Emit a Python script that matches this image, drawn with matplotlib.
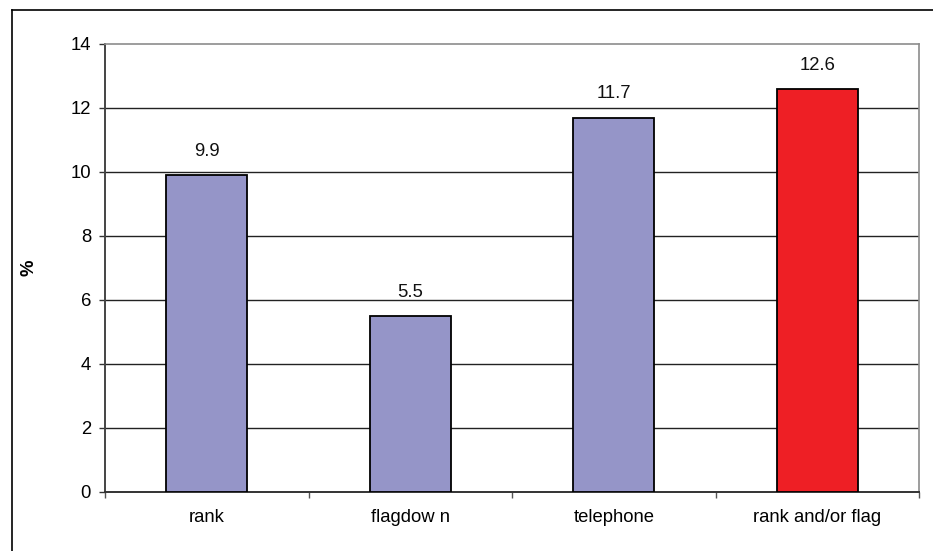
import matplotlib
matplotlib.use("Agg")
import matplotlib.pyplot as plt
from matplotlib.lines import Line2D

plt.rcParams['font.family'] = ['Liberation Sans', 'DejaVu Sans']

categories = ["rank", "flagdow n", "telephone", "rank and/or flag"]
values = [9.9, 5.5, 11.7, 12.6]
bar_colors = ["#9595C8", "#9595C8", "#9595C8", "#EE1F25"]
y_ticks = [0, 2, 4, 6, 8, 10, 12, 14]

FS = 13.3

fig = plt.figure(figsize=(9.33, 5.51), dpi=100)
ax = fig.add_axes([105 / 933, 1 - 492 / 551, (919 - 105) / 933, (492 - 44) / 551])

x = list(range(len(categories)))
bars = ax.bar(x, values, width=0.4, color=bar_colors, edgecolor="black",
              linewidth=1.3, zorder=3)

for xi, v in zip(x, values):
    ax.annotate(f"{v}", (xi, v), xytext=(0, 11), textcoords="offset points",
                ha="center", va="bottom", fontsize=FS, color="#111111")

ax.set_xlim(-0.5, len(categories) - 0.5)
ax.set_ylim(0, 14)
ax.set_yticks(y_ticks)
ax.set_yticklabels([str(t) for t in y_ticks], fontsize=FS)
ax.set_xticks(x)
ax.set_xticklabels(categories, fontsize=FS)
ax.tick_params(axis="x", length=0, pad=12)
ax.set_xticks([i + 0.5 for i in range(-1, len(categories))], minor=True)
ax.tick_params(axis="x", which="minor", length=4, width=1, color="#555555")
ax.tick_params(axis="y", length=4, width=1, color="#333333", pad=6)

for yv in y_ticks[1:-1]:
    ax.axhline(yv, color="#222222", linewidth=1.0, zorder=1)

ax.spines["left"].set_color("#444444")
ax.spines["left"].set_linewidth(1.4)
ax.spines["bottom"].set_color("#333333")
ax.spines["bottom"].set_linewidth(1.4)
ax.spines["top"].set_color("#8c8c8c")
ax.spines["top"].set_linewidth(1.2)
ax.spines["right"].set_color("#8c8c8c")
ax.spines["right"].set_linewidth(1.2)

ax.set_ylabel("%", fontsize=FS, fontweight="bold", labelpad=24)

# outer chart frame (left and top edges)
fig.add_artist(Line2D([11.5 / 933, 11.5 / 933], [0, 1 - 9.5 / 551],
                      transform=fig.transFigure, color="black", linewidth=1.2))
fig.add_artist(Line2D([11.5 / 933, 1], [1 - 9.5 / 551, 1 - 9.5 / 551],
                      transform=fig.transFigure, color="black", linewidth=1.2))

fig.savefig("out.png", dpi=100)
